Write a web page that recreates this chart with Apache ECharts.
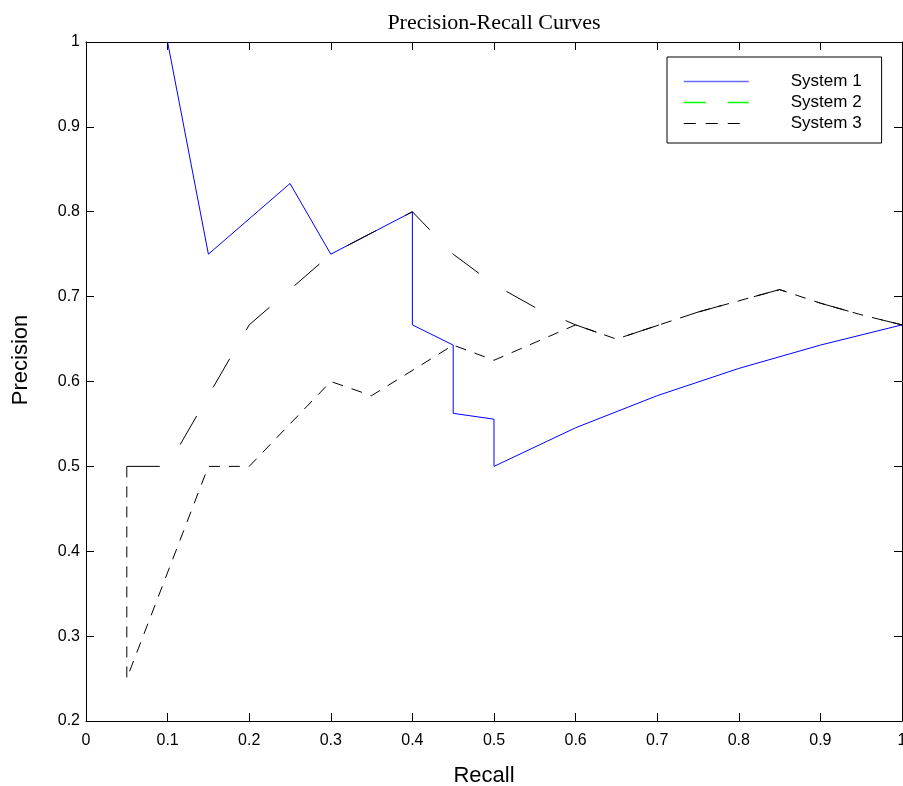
<!DOCTYPE html>
<html>
<head>
<meta charset="utf-8">
<script src="https://cdn.jsdelivr.net/npm/echarts@6/dist/echarts.min.js"></script>
<style>
html,body{margin:0;padding:0;background:#fff;overflow:hidden;}
#chart{width:903px;height:786px;}
</style>
</head>
<body>
<div id="chart"></div>
<script>
// ---- data ----
var seriesNames = ['System 1', 'System 2', 'System 3'];
var recall1 = [0.10, 0.15, 0.25, 0.30, 0.40, 0.40, 0.45, 0.45, 0.50, 0.50, 0.60, 0.70, 0.80, 0.90, 1.00];
var prec1   = [1.0, 0.75, 0.8333, 0.75, 0.80, 0.6667, 0.6429, 0.5625, 0.5556, 0.50, 0.5455, 0.5833, 0.6154, 0.6429, 0.6667];
var recall2 = [0.05, 0.10, 0.20, 0.30, 0.40, 0.45, 0.50, 0.55, 0.60, 0.65, 0.75, 0.85, 0.90, 0.95, 1.00];
var prec2   = [0.50, 0.50, 0.6667, 0.75, 0.80, 0.75, 0.7143, 0.6875, 0.6667, 0.65, 0.6818, 0.7083, 0.6923, 0.6786, 0.6667];
var recall3 = [0.05, 0.05, 0.15, 0.20, 0.30, 0.35, 0.45, 0.50, 0.60, 0.65, 0.75, 0.85, 0.90, 0.95, 1.00];
var prec3   = [0.50, 0.25, 0.50, 0.50, 0.60, 0.5833, 0.6429, 0.625, 0.6667, 0.65, 0.6818, 0.7083, 0.6923, 0.6786, 0.6667];
var xTickLabels = ['0', '0.1', '0.2', '0.3', '0.4', '0.5', '0.6', '0.7', '0.8', '0.9', '1'];
var yTickLabels = ['0.2', '0.3', '0.4', '0.5', '0.6', '0.7', '0.8', '0.9', '1'];

function pairs(xs, ys) { return xs.map(function (x, i) { return [x, ys[i]]; }); }

var SANS = '"Liberation Sans", Arial, Helvetica, sans-serif';
var SERIF = '"Liberation Serif", "Times New Roman", serif';

var axisLine = { show: true, onZero: false, lineStyle: { color: '#000', width: 1 } };
var tick = { show: true, inside: true, length: 8, lineStyle: { color: '#000', width: 1 } };

var chart = echarts.init(document.getElementById('chart'), null, { renderer: 'canvas' });
chart.setOption({
  animation: false,
  backgroundColor: '#fff',
  title: {
    text: 'Precision-Recall Curves',
    left: 494, top: 12, padding: 0, textAlign: 'center',
    textStyle: { fontFamily: SERIF, fontSize: 22, fontWeight: 'normal', color: '#000' }
  },
  grid: { left: 86, right: 1, top: 42, bottom: 65, containLabel: false, outerBoundsMode: 'none' },
  xAxis: [
    {
      type: 'value', position: 'bottom', min: 0, max: 1, interval: 0.1,
      axisLine: axisLine, axisTick: tick, splitLine: { show: false },
      axisLabel: {
        margin: 12, fontFamily: SANS, fontSize: 16, color: '#000', hideOverlap: false,
        formatter: function (v) { return xTickLabels[Math.round(v * 10)]; }
      }
    },
    {
      type: 'value', position: 'top', min: 0, max: 1, interval: 0.1,
      axisLine: axisLine, axisTick: tick, splitLine: { show: false },
      axisLabel: { show: false }
    }
  ],
  yAxis: [
    {
      type: 'value', position: 'left', min: 0.2, max: 1, interval: 0.1,
      axisLine: axisLine, axisTick: tick, splitLine: { show: false },
      axisLabel: {
        margin: 6, fontFamily: SANS, fontSize: 16, color: '#000',
        formatter: function (v) { return yTickLabels[Math.round(v * 10) - 2]; }
      }
    },
    {
      type: 'value', position: 'right', min: 0.2, max: 1, interval: 0.1,
      axisLine: axisLine, axisTick: tick, splitLine: { show: false },
      axisLabel: { show: false }
    }
  ],
  legend: {
    orient: 'vertical', left: 667, top: 57,
    padding: [16, 20, 11, 16],
    itemWidth: 65, itemHeight: 14, itemGap: 4,
    borderColor: '#000', borderWidth: 1, borderRadius: 0,
    backgroundColor: '#fff',
    selectedMode: false,
    itemStyle: { opacity: 0 },
    textStyle: { fontFamily: SANS, fontSize: 17, color: '#000', padding: [0, 0, 0, 37] },
    data: [
      { name: seriesNames[0], itemStyle: { color: '#6a6aff', opacity: 0 }, lineStyle: { color: '#6a6aff', type: [66, 1], width: 1.5, opacity: 1 } },
      { name: seriesNames[1], itemStyle: { color: '#00ff00', opacity: 0 }, lineStyle: { color: '#00ff00', type: [22, 22], width: 1.5 } },
      { name: seriesNames[2], itemStyle: { color: '#000', opacity: 0 }, lineStyle: { color: '#000', type: [12, 10], width: 1 } }
    ]
  },
  series: [
    {
      name: seriesNames[0], type: 'line', xAxisIndex: 0, yAxisIndex: 0,
      data: pairs(recall1, prec1), symbol: 'none', showSymbol: false,
      color: '#0000ff',
      itemStyle: { color: '#0000ff' },
      lineStyle: { color: '#0000ff', width: 1, type: 'solid' }
    },
    {
      name: seriesNames[1], type: 'line', xAxisIndex: 0, yAxisIndex: 0,
      data: pairs(recall2, prec2), symbol: 'none', showSymbol: false,
      itemStyle: { color: '#000' },
      lineStyle: { color: '#000', width: 1, type: [33, 33] }
    },
    {
      name: seriesNames[2], type: 'line', xAxisIndex: 0, yAxisIndex: 0,
      data: pairs(recall3, prec3), symbol: 'none', showSymbol: false,
      itemStyle: { color: '#000' },
      lineStyle: { color: '#000', width: 1, type: [11, 9] }
    }
  ],
  graphic: [
    {
      type: 'text', x: 484, y: 776, silent: true,
      style: { text: 'Recall', fontFamily: SANS, fontSize: 22, fill: '#000', align: 'center', verticalAlign: 'middle' }
    },
    {
      type: 'text', x: 21, y: 360, rotation: Math.PI / 2, silent: true,
      style: { text: 'Precision', fontFamily: SANS, fontSize: 22, fill: '#000', align: 'center', verticalAlign: 'middle' }
    }
  ]
});
</script>
</body>
</html>
